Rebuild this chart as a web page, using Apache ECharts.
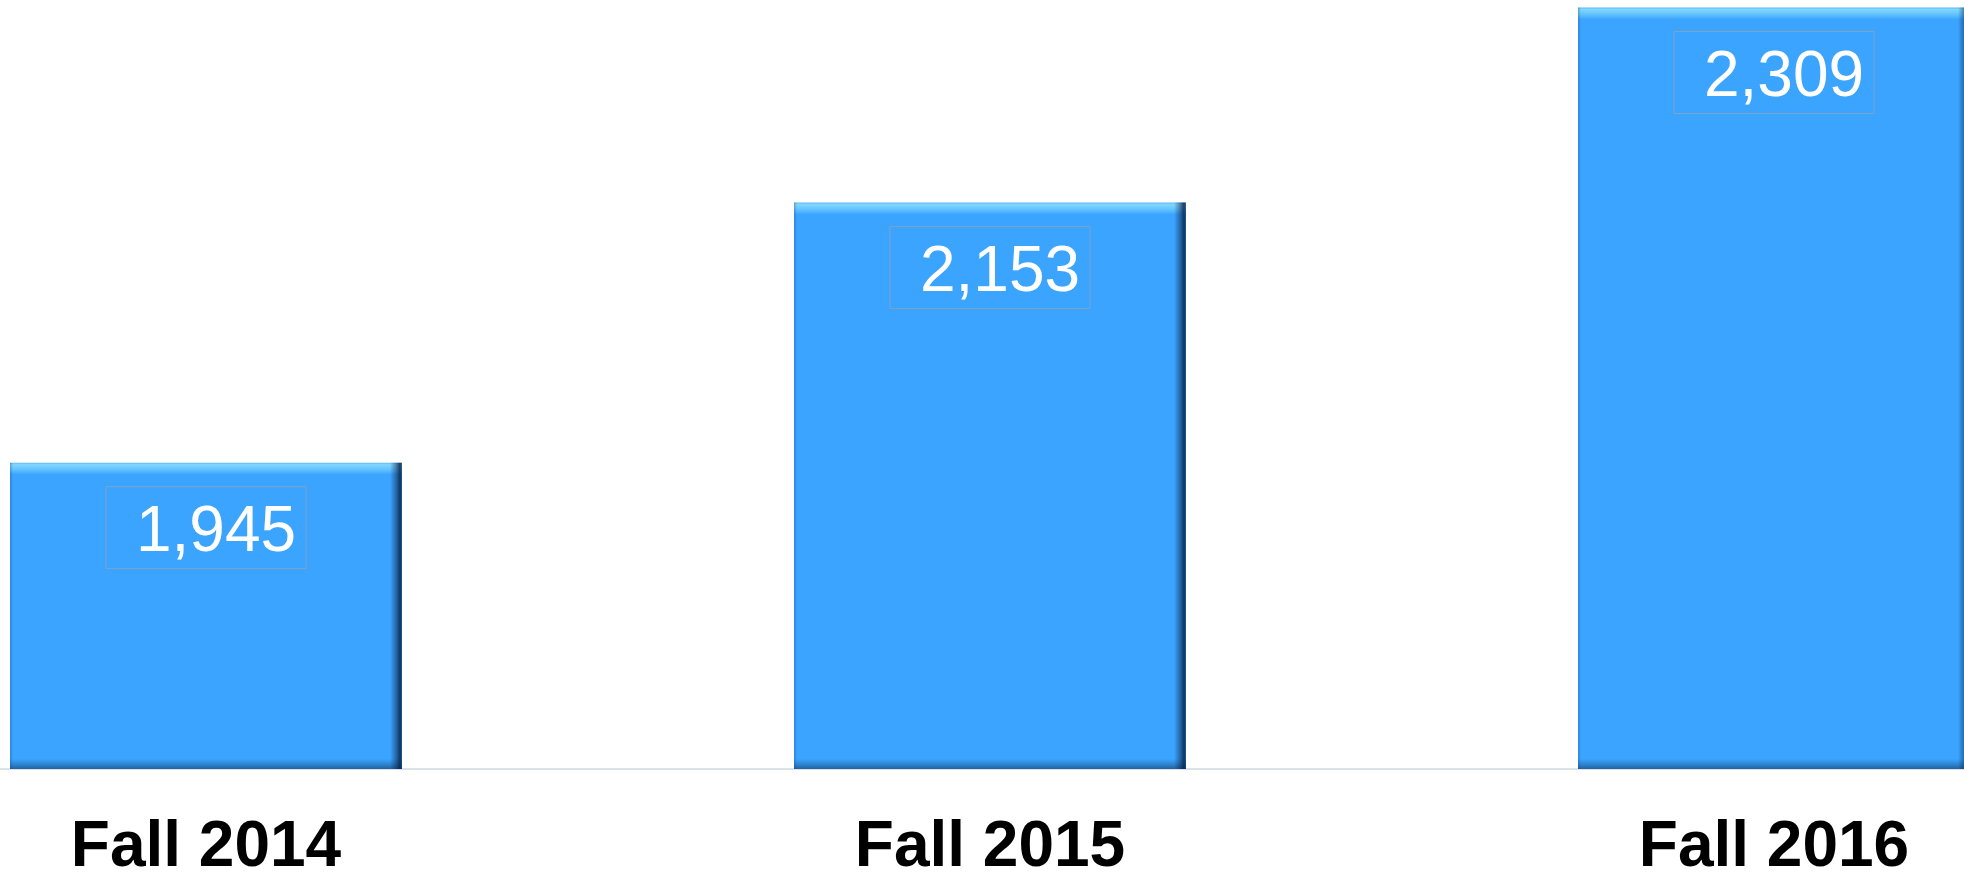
<!DOCTYPE html>
<html>
<head>
<meta charset="utf-8">
<script src="https://cdn.jsdelivr.net/npm/echarts@6/dist/echarts.min.js"></script>
<style>
html,body{margin:0;padding:0;background:#fff;}
#chart{width:1964px;height:872px;}
</style>
</head>
<body>
<div id="chart"></div>
<script>
var categories = ['Fall 2014', 'Fall 2015', 'Fall 2016'];
var enrollment = [1945, 2153, 2309];

var chart = echarts.init(document.getElementById('chart'));
var labelFmt = function (p) { return p.value.toLocaleString('en-US'); };

var BAR_W = 392; // approx pixel width, used only for bevel gradient stops
function vGrad(h) {
  return new echarts.graphic.LinearGradient(0, 0, 0, 1, [
    { offset: 0, color: '#5bb9f4' },
    { offset: 2 / h, color: '#82d6ff' },
    { offset: 7 / h, color: '#62c2ff' },
    { offset: 12 / h, color: '#3ba4ff' },
    { offset: 1 - 10 / h, color: '#3ba4ff' },
    { offset: 1 - 5 / h, color: '#2e86d6' },
    { offset: 1, color: '#22629e' }
  ]);
}
var hGrad = new echarts.graphic.LinearGradient(0, 0, 1, 0, [
  { offset: 0, color: 'rgba(20,70,130,0.35)' },
  { offset: 3 / BAR_W, color: 'rgba(20,70,130,0.0)' },
  { offset: 1 - 12 / BAR_W, color: 'rgba(10,35,70,0.0)' },
  { offset: 1 - 6 / BAR_W, color: 'rgba(10,35,70,0.45)' },
  { offset: 1 - 2 / BAR_W, color: 'rgba(10,35,70,0.85)' },
  { offset: 1, color: 'rgba(10,35,70,0.6)' }
]);

var baseOption = {
  animation: false,
  grid: { left: -186, width: 2352, top: 0, height: 769, containLabel: false, outerBoundsMode: 'none' },
  xAxis: {
    type: 'category',
    data: categories,
    axisTick: { show: false },
    axisLine: { show: true, lineStyle: { color: '#dde1e8', width: 2 } },
    axisLabel: {
      margin: 47,
      fontFamily: 'Liberation Sans, Arial, sans-serif',
      fontWeight: 'bold',
      fontSize: 64,
      lineHeight: 64,
      color: '#000'
    }
  },
  yAxis: {
    type: 'value',
    min: 1700,
    max: 2315,
    show: false,
    splitLine: { show: false }
  },
  series: [
    {
      type: 'bar',
      data: enrollment,
      barWidth: '50%',
      itemStyle: {
        color: '#3ba4ff',
        shadowBlur: 6,
        shadowColor: 'rgba(0,0,0,0.3)',
        shadowOffsetX: 2,
        shadowOffsetY: 1
      }
    },
    {
      type: 'bar',
      data: enrollment,
      barWidth: '50%',
      barGap: '-100%',
      itemStyle: { color: hGrad },
      label: {
        show: true,
        position: 'insideTop',
        distance: 24,
        formatter: labelFmt,
        fontFamily: 'Liberation Sans, Arial, sans-serif',
        fontSize: 64,
        lineHeight: 64,
        color: '#fff',
        borderColor: '#7fa3c6',
        borderWidth: 1,
        padding: [15, 10, 3, 30]
      }
    }
  ]
};
chart.setOption(baseOption);

// per-bar vertical bevel, sized in pixels from the bar's actual height
var baseY = chart.convertToPixel({ yAxisIndex: 0 }, 1700);
var styled = enrollment.map(function (v) {
  var h = baseY - chart.convertToPixel({ yAxisIndex: 0 }, v);
  return { value: v, itemStyle: { color: vGrad(h) } };
});
chart.setOption({ series: [{ data: styled }] });
</script>
</body>
</html>
